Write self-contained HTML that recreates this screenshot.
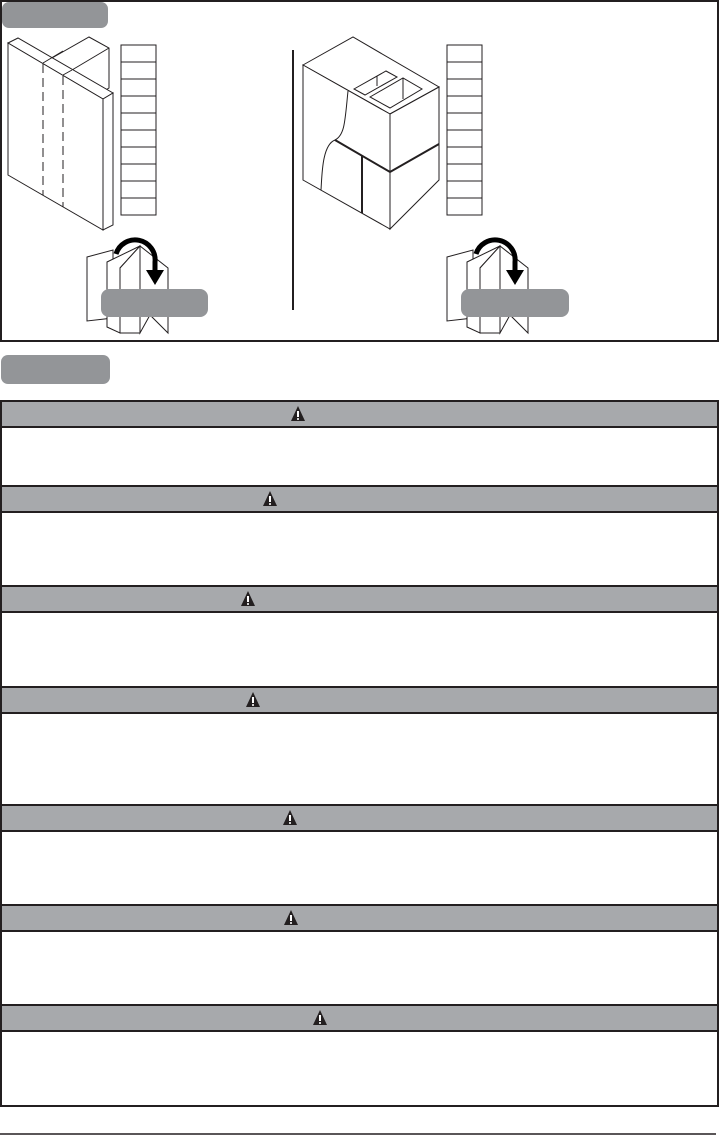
<!DOCTYPE html>
<html><head><meta charset="utf-8"><style>
html,body{margin:0;padding:0;background:#fff;}
svg{display:block;}
</style></head><body>
<svg width="720" height="1135" viewBox="0 0 720 1135" xmlns="http://www.w3.org/2000/svg">
<defs>
<g id="fold">
  <g fill="#fff" stroke="#231f20" stroke-width="1">
    <polygon points="87,257 113,250 113,318 87,321"/>
    <polygon points="140,246 168,268 168,333 150,315 140,333"/>
    <polygon points="107,262 140,246 120,268 120,333 107,327"/>
    <polygon points="120,268 140,246 140,333 120,333"/>
  </g>
  <path d="M116,254 A20,20 0 0 1 155,262 L155,272" fill="none" stroke="#000" stroke-width="5"/>
  <polygon points="146,270 164,270 155,285" fill="#000"/>
</g>
<g id="grid" fill="none" stroke="#231f20" stroke-width="1">
  <rect x="0" y="0" width="35" height="170"/>
  <line x1="0" y1="17" x2="35" y2="17"/><line x1="0" y1="34" x2="35" y2="34"/>
  <line x1="0" y1="51" x2="35" y2="51"/><line x1="0" y1="68" x2="35" y2="68"/>
  <line x1="0" y1="85" x2="35" y2="85"/><line x1="0" y1="102" x2="35" y2="102"/>
  <line x1="0" y1="119" x2="35" y2="119"/><line x1="0" y1="136" x2="35" y2="136"/>
  <line x1="0" y1="153" x2="35" y2="153"/>
</g>
<g id="tri"><polygon points="0,-8 7,7 -7,7" fill="#231f20"/><rect x="-1" y="-3" width="2" height="6" fill="#fff"/><rect x="-1" y="4.2" width="2" height="1.6" fill="#fff"/></g>
</defs>

<rect x="1" y="1" width="717" height="340" fill="#fff" stroke="#231f20" stroke-width="2"/>
<rect x="2" y="2" width="106" height="26" rx="7" fill="#939598"/>

<g fill="#fff" stroke="#231f20" stroke-width="1">
  <polygon points="52,58 89,37 109,48 109,88 72,110"/>
  <line x1="52" y1="58" x2="72" y2="70"/>
  <line x1="72" y1="70" x2="109" y2="48"/>
  <polygon points="8,43 18,38 113,93 103,99"/>
  <polygon points="8,43 103,99 103,230 8,175"/>
  <polygon points="103,99 113,93 113,225 103,230"/>
  <line x1="43" y1="63" x2="63" y2="51"/>
  <line x1="63" y1="75" x2="72" y2="70"/>
</g>
<g stroke="#231f20" stroke-width="1" stroke-dasharray="9,5">
  <line x1="43" y1="64" x2="43" y2="195"/>
  <line x1="63" y1="76" x2="63" y2="207"/>
</g>
<use href="#grid" x="121" y="45"/>
<use href="#fold"/>
<rect x="101" y="289" width="107" height="28" rx="8" fill="#939598"/>

<line x1="293" y1="50" x2="293" y2="310" stroke="#231f20" stroke-width="2"/>

<g fill="#fff" stroke="#231f20" stroke-width="1">
  <polygon points="303,65 353,37 439,87 390,114"/>
  <polygon points="303,65 390,114 390,229 303,180"/>
  <polygon points="390,114 439,87 439,180 390,229"/>
  <polygon points="354,89 386,71 397,77 365,95"/>
  <line x1="377" y1="76" x2="377" y2="86"/>
  <polygon points="370,97 403,78 422,89 390,108"/>
  <line x1="403" y1="78" x2="403" y2="99"/>
</g>
<path d="M348,91 C345,120 345,135 335,140 C322,145 322,175 321,190" fill="none" stroke="#231f20" stroke-width="1"/>
<polyline points="335,140 390,172 439,144" fill="none" stroke="#231f20" stroke-width="2"/>
<line x1="362" y1="156" x2="362" y2="213" stroke="#231f20" stroke-width="2"/>
<use href="#grid" x="447" y="45"/>
<use href="#fold" x="360"/>
<rect x="461" y="289" width="108" height="28" rx="8" fill="#939598"/>

<rect x="1" y="355" width="109" height="29" rx="7" fill="#939598"/>

<rect x="1" y="401" width="717" height="705" fill="#fff" stroke="#231f20" stroke-width="2"/>
<g fill="#a7a9ac" stroke="#231f20" stroke-width="2">
  <rect x="1" y="401" width="717" height="26"/>
  <rect x="1" y="486" width="717" height="26"/>
  <rect x="1" y="586" width="717" height="26"/>
  <rect x="1" y="687" width="717" height="26"/>
  <rect x="1" y="805" width="717" height="26"/>
  <rect x="1" y="905" width="717" height="26"/>
  <rect x="1" y="1005" width="717" height="26"/>
</g>
<use href="#tri" x="298" y="414"/>
<use href="#tri" x="270" y="499"/>
<use href="#tri" x="248" y="599"/>
<use href="#tri" x="253" y="700"/>
<use href="#tri" x="290" y="818"/>
<use href="#tri" x="291" y="918"/>
<use href="#tri" x="320" y="1018"/>

<line x1="0" y1="1134" x2="716" y2="1134" stroke="#231f20" stroke-width="1.5"/>
</svg>
</body></html>
